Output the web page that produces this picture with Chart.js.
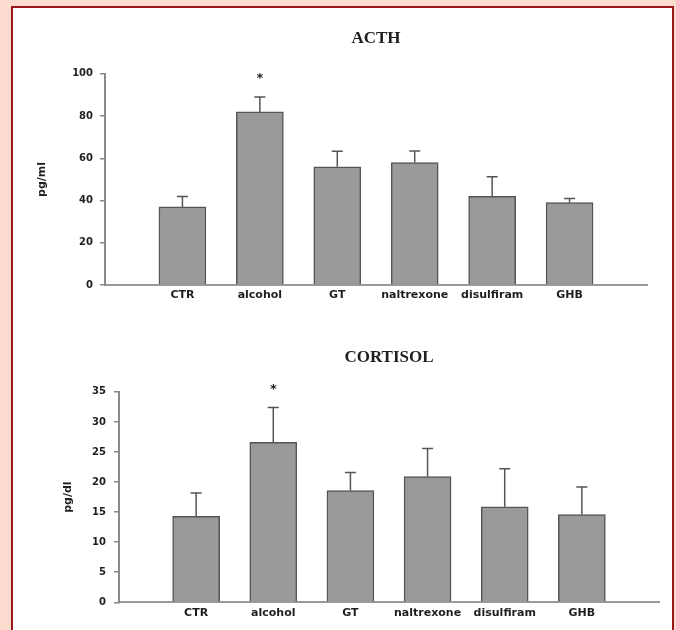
<!DOCTYPE html>
<html>
<head>
<meta charset="utf-8">
<script src="https://cdn.jsdelivr.net/npm/chart.js@4.4.0/dist/chart.umd.min.js"></script>
<style>
  html, body { margin: 0; padding: 0; }
  body { width: 676px; height: 630px; background: #fcdccf; position: relative; overflow: hidden; }
  #panel { position: absolute; left: 11px; top: 6px; width: 659px; height: 700px; background: #fff; border: 2px solid #9c1818; }
  .box { position: absolute; left: 0; width: 676px; }
  #acthBox { top: 0; height: 320px; }
  #cortBox { top: 320px; height: 310px; }
</style>
</head>
<body>
<div id="panel"></div>
<div class="box" id="acthBox"><canvas id="acthChart" width="676" height="320"></canvas></div>
<div class="box" id="cortBox"><canvas id="cortChart" width="676" height="310"></canvas></div>
<script>
// --- datos ---
const categories = ['CTR', 'alcohol', 'GT', 'naltrexone', 'disulfiram', 'GHB'];
const acthMeans = [37, 82, 56, 58, 42, 39];
const acthErrors = [4.9, 7, 7.4, 5.5, 9.3, 2];
const cortisolMeans = [14.3, 26.6, 18.6, 20.9, 15.9, 14.6];
const cortisolErrors = [3.9, 5.8, 3.0, 4.7, 6.3, 4.6];
const significance = ['', '*', '', '', '', ''];
const acthTicks = [0, 20, 40, 60, 80, 100];
const cortisolTicks = [0, 5, 10, 15, 20, 25, 30, 35];

const TEXT = '#1e1e1e';
const SANS = '"DejaVu Sans", sans-serif';

// barras de error (solo hacia arriba) + asterisco
const errorBars = {
    id: 'errorBars',
    afterDatasetsDraw(chart) {
        const ctx = chart.ctx;
        const yScale = chart.scales.y;
        const ds = chart.data.datasets[0];
        const meta = chart.getDatasetMeta(0);
        ctx.save();
        ctx.strokeStyle = '#555';
        ctx.lineWidth = 1.5;
        meta.data.forEach((bar, i) => {
            const v = ds.data[i];
            if (v == null) return;
            const top = yScale.getPixelForValue(v + ds.errors[i]);
            ctx.beginPath();
            ctx.moveTo(bar.x, bar.y);
            ctx.lineTo(bar.x, top);
            ctx.moveTo(bar.x - 5.5, top);
            ctx.lineTo(bar.x + 5.5, top);
            ctx.stroke();
            if (ds.marks[i]) {
                ctx.fillStyle = TEXT;
                ctx.font = 'bold 13px ' + SANS;
                ctx.textAlign = 'center';
                ctx.textBaseline = 'alphabetic';
                ctx.fillText(ds.marks[i], bar.x, top - 15);
            }
        });
        ctx.restore();
    }
};

const pad = arr => [null, ...arr, null];

const makeChart = (id, title, yTitle, means, errors, ticks, lay) => {
    new Chart(document.getElementById(id), {
        type: 'bar',
        data: {
            labels: ['', ...categories, ''],
            datasets: [{
                data: pad(means),
                errors: pad(errors),
                marks: pad(significance),
                backgroundColor: '#9a9a9a',
                borderColor: '#555',
                borderWidth: 1.5,
                barThickness: 47
            }]
        },
        options: {
            responsive: false,
            animation: false,
            layout: { padding: { left: 0, right: lay.right, top: 0, bottom: 0 } },
            plugins: {
                legend: { display: false },
                tooltip: { enabled: false },
                title: {
                    display: true,
                    text: title,
                    fullSize: false,
                    color: TEXT,
                    font: { family: '"Liberation Serif", serif', size: 17, weight: 'bold' },
                    padding: { top: lay.titleTop, bottom: lay.titleBottom }
                }
            },
            scales: {
                x: {
                    offset: false,
                    grid: { display: false, drawTicks: false },
                    border: { display: true, color: '#999', width: 2 },
                    ticks: { color: TEXT, padding: 4, font: { family: SANS, size: 11, weight: 'bold' }, maxRotation: 0, autoSkip: false },
                    afterFit: s => { s.height = lay.xHeight; }
                },
                y: {
                    min: ticks[0],
                    max: ticks[ticks.length - 1],
                    afterBuildTicks: s => { s.ticks = ticks.map(v => ({ value: v })); },
                    grid: { drawOnChartArea: false, drawTicks: true, tickLength: 5, color: '#888', lineWidth: 1.5 },
                    border: { display: true, color: '#888', width: 2 },
                    ticks: { color: TEXT, padding: lay.tickPad, font: { family: SANS, size: 10, weight: 'bold' } },
                    title: {
                        display: true,
                        text: yTitle,
                        color: TEXT,
                        font: { family: SANS, size: 11, weight: 'bold' },
                        padding: { top: lay.yTitleTop }
                    },
                    afterFit: s => { s.width = lay.yWidth; }
                }
            }
        },
        plugins: [errorBars]
    });
};

makeChart('acthChart', 'ACTH', 'pg/ml', acthMeans, acthErrors, acthTicks,
    { right: 29, titleTop: 28, titleBottom: 25.5, xHeight: 35, yWidth: 105, tickPad: 7, yTitleTop: 35.4 });

makeChart('cortChart', 'CORTISOL', 'pg/dl', cortisolMeans, cortisolErrors, cortisolTicks,
    { right: 17, titleTop: 27.4, titleBottom: 24.1, xHeight: 27.7, yWidth: 119, tickPad: 8, yTitleTop: 61.4 });
</script>
</body>
</html>
